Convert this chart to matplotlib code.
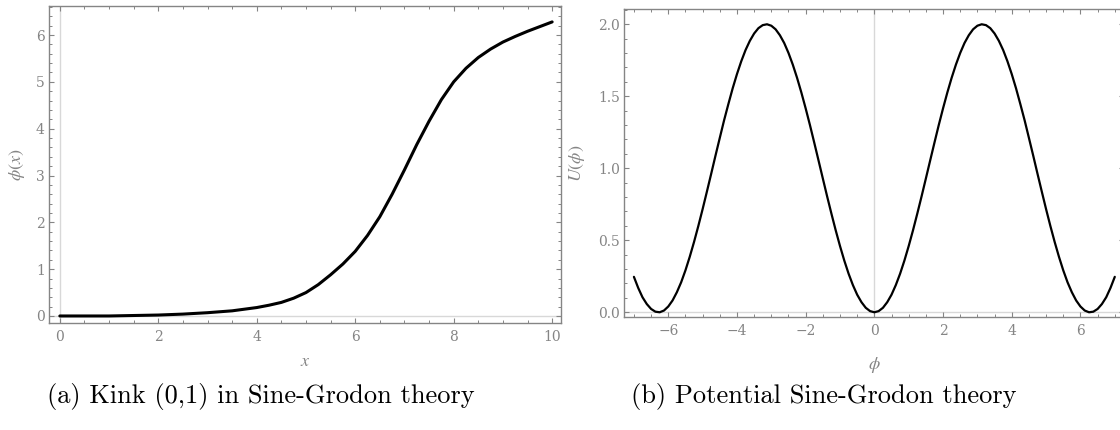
import matplotlib
matplotlib.use("Agg")
import matplotlib.pyplot as plt
from matplotlib.ticker import MultipleLocator

# ---- data ----
kink_x = [0, 0.5, 1, 1.5, 2, 2.5, 3, 3.5, 4, 4.25, 4.5, 4.75, 5, 5.25, 5.5,
          5.75, 6, 6.25, 6.5, 6.75, 7, 7.25, 7.5, 7.75, 8, 8.25, 8.5, 8.75,
          9, 9.25, 9.5, 9.75, 10]
kink_phi = [0.0, 0.0, 0.0, 0.01, 0.02, 0.04, 0.07, 0.11, 0.18, 0.23, 0.29, 0.38,
            0.50, 0.67, 0.88, 1.11, 1.38, 1.72, 2.12, 2.60, 3.12, 3.66, 4.16, 4.62,
            5.00, 5.29, 5.52, 5.70, 5.85, 5.97, 6.08, 6.18, 6.28]

pot_phi_pos = [0.0, 0.125, 0.25, 0.375, 0.5, 0.625, 0.75, 0.875, 1.0, 1.125,
               1.25, 1.375, 1.5, 1.625, 1.75, 1.875, 2.0, 2.125, 2.25, 2.375,
               2.5, 2.625, 2.75, 2.875, 3.0, 3.125, 3.25, 3.375, 3.5, 3.625,
               3.75, 3.875, 4.0, 4.125, 4.25, 4.375, 4.5, 4.625, 4.75, 4.875,
               5.0, 5.125, 5.25, 5.375, 5.5, 5.625, 5.75, 5.875, 6.0, 6.125,
               6.25, 6.375, 6.5, 6.625, 6.75, 6.875, 7.0]
pot_U_pos = [0.000, 0.008, 0.031, 0.070, 0.122, 0.189, 0.268, 0.359, 0.460, 0.569,
             0.685, 0.805, 0.929, 1.054, 1.178, 1.300, 1.416, 1.526, 1.628, 1.720,
             1.801, 1.870, 1.924, 1.965, 1.990, 2.000, 1.994, 1.973, 1.936, 1.885,
             1.821, 1.743, 1.654, 1.555, 1.446, 1.333, 1.211, 1.088, 0.962, 0.838,
             0.716, 0.599, 0.488, 0.385, 0.291, 0.208, 0.139, 0.082, 0.040, 0.012,
             0.000, 0.004, 0.023, 0.057, 0.104, 0.169, 0.246]
# the potential is read as symmetric about phi = 0
pot_phi = [-p for p in pot_phi_pos[:0:-1]] + pot_phi_pos
pot_U = pot_U_pos[:0:-1] + pot_U_pos

left_xticks = [0, 2, 4, 6, 8, 10]
left_yticks = [0, 1, 2, 3, 4, 5, 6]
right_xticks = [-6, -4, -2, 0, 2, 4, 6]
right_yticks = [0.0, 0.5, 1.0, 1.5, 2.0]

caption_a = "(a) Kink (0,1) in Sine-Grodon theory"
caption_b = "(b) Potential Sine-Grodon theory"

# ---- style ----
plt.rcParams['mathtext.fontset'] = 'stix'
FRAME = '#858585'
LABEL = '#858585'
AXLINE = '#d8d8d8'
TICKFONT = 'DejaVu Serif'

W, H = 1120, 430
fig = plt.figure(figsize=(W / 100, H / 100), dpi=100)


def px_axes(l, r, t, b):
    return fig.add_axes([l / W, (H - b) / H, (r - l) / W, (b - t) / H])


def style(ax, xmaj, xmin, ymaj, ymin):
    for s in ax.spines.values():
        s.set_color(FRAME)
        s.set_linewidth(1.0)
    ax.xaxis.set_major_locator(MultipleLocator(xmaj))
    ax.xaxis.set_minor_locator(MultipleLocator(xmin))
    ax.yaxis.set_major_locator(MultipleLocator(ymaj))
    ax.yaxis.set_minor_locator(MultipleLocator(ymin))
    ax.tick_params(which='both', direction='in', top=True, right=True,
                   color=FRAME, labelcolor=LABEL)
    ax.tick_params(which='major', length=3.6, width=0.8, labelsize=10)
    ax.tick_params(which='minor', length=2.0, width=0.7)
    ax.tick_params(axis='x', which='major', pad=5)
    ax.tick_params(axis='y', which='major', pad=3)


def fontify(ax):
    for lab in ax.get_xticklabels() + ax.get_yticklabels():
        lab.set_fontfamily(TICKFONT)


# ---- left panel ----
ax1 = px_axes(49, 561, 6, 323)
ax1.axvline(0, color=AXLINE, lw=1.0, zorder=1)
ax1.axhline(0, color=AXLINE, lw=1.0, zorder=1)
ax1.plot(kink_x, kink_phi, color='black', lw=2.2, zorder=3,
         solid_capstyle='round', solid_joinstyle='round')
ax1.set_xlim(-0.22, 10.18)
ax1.set_ylim(-0.15, 6.62)
style(ax1, 2, 0.5, 1, 0.2)
ax1.set_xticks(left_xticks)
ax1.set_yticks(left_yticks)
ax1.xaxis.set_major_formatter(plt.FuncFormatter(lambda v, p: f"{v:.0f}"))
ax1.yaxis.set_major_formatter(plt.FuncFormatter(lambda v, p: f"{v:.0f}"))
fontify(ax1)
ax1.set_xlabel(r'$x$', color=LABEL, fontsize=13)
ax1.xaxis.set_label_coords(0.5, -0.09)
ax1.set_ylabel(r'$\phi(x)$', color=LABEL, fontsize=13)
ax1.yaxis.set_label_coords(-0.043, 0.5)

# ---- right panel ----
ax2 = px_axes(624.3, 1124.4, 9.3, 317.3)
ax2.axvline(0, color=AXLINE, lw=1.0, zorder=1)
ax2.axhline(0, color=AXLINE, lw=1.0, zorder=1)
ax2.plot(pot_phi, pot_U, color='black', lw=1.6, zorder=3,
         solid_capstyle='round', solid_joinstyle='round')
ax2.set_xlim(-7.28, 7.28)
ax2.set_ylim(-0.035, 2.104)
style(ax2, 2, 0.5, 0.5, 0.1)
ax2.set_xticks(right_xticks)
ax2.set_yticks(right_yticks)
ax2.xaxis.set_major_formatter(plt.FuncFormatter(
    lambda v, p: f"\u2212{abs(v):.0f}" if v < 0 else f"{v:.0f}"))
ax2.yaxis.set_major_formatter(plt.FuncFormatter(lambda v, p: f"{v:.1f}"))
fontify(ax2)
ax2.set_xlabel(r'$\phi$', color=LABEL, fontsize=13)
ax2.xaxis.set_label_coords(0.5, -0.122)
ax2.set_ylabel(r'$U(\phi)$', color=LABEL, fontsize=13)
ax2.yaxis.set_label_coords(-0.075, 0.5)

# ---- captions ----
fig.text(261 / W, 1 - 397 / H, caption_a, ha='center', va='center',
         fontsize=19, family='cmr10', color='black')
fig.text(824 / W, 1 - 397 / H, caption_b, ha='center', va='center',
         fontsize=19, family='cmr10', color='black')

fig.savefig('out.png', dpi=100)
